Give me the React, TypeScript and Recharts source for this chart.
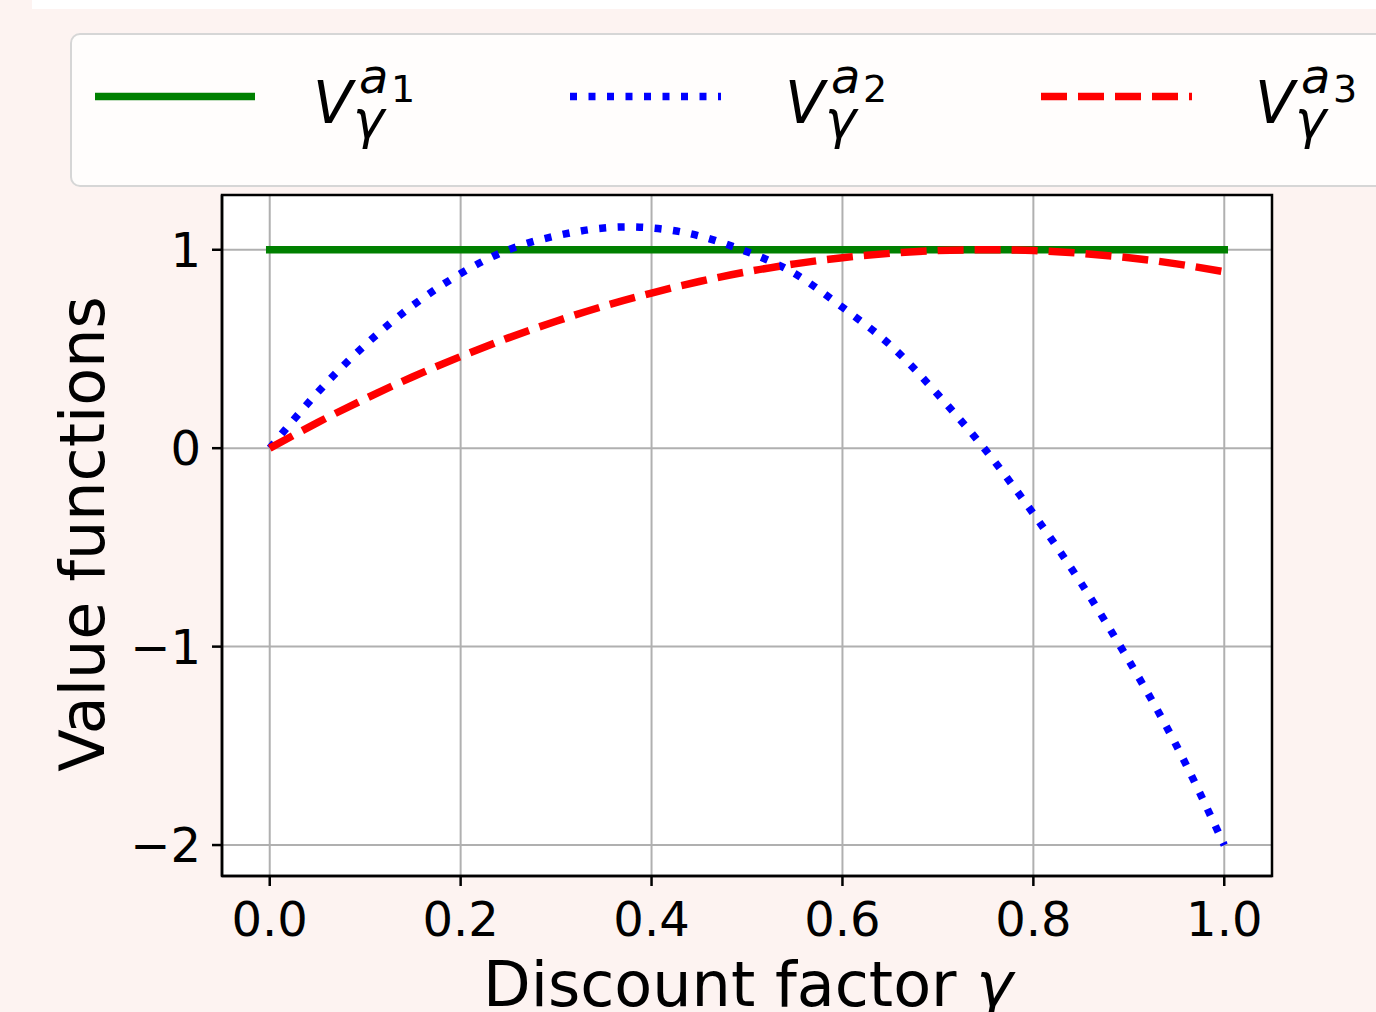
import React from "react";
import {
  LineChart,
  Line,
  XAxis,
  YAxis,
  CartesianGrid,
  Legend,
  Label,
  ReferenceArea,
} from "recharts";

const gammas = [
  0, 0.05, 0.1, 0.15, 0.2, 0.25, 0.3, 0.35, 0.4, 0.45, 0.5, 0.55, 0.6, 0.65,
  0.7, 0.75, 0.8, 0.85, 0.9, 0.95, 1,
];

const valueA1 = [1, 1, 1, 1, 1, 1, 1, 1, 1, 1, 1, 1, 1, 1, 1, 1, 1, 1, 1, 1, 1];

const valueA2 = [
  0, 0.28, 0.52, 0.72, 0.88, 1.0, 1.07, 1.11, 1.11, 1.07, 0.99, 0.88, 0.71,
  0.52, 0.27, -0.01, -0.33, -0.68, -1.07, -1.5, -2.0,
];

const valueA3 = [
  0, 0.129, 0.249, 0.36, 0.462, 0.556, 0.64, 0.716, 0.782, 0.84, 0.889, 0.929,
  0.96, 0.982, 0.996, 1.0, 0.996, 0.982, 0.96, 0.929, 0.889,
];

const xTicks = [0, 0.2, 0.4, 0.6, 0.8, 1.0];
const yTicks = [-2, -1, 0, 1];

const xDomain = [-0.05, 1.05];
const yDomain = [-2.156, 1.276];

const series = [
  { key: "a1", name: "V_γ^{a1}", sup: "1", color: "#008000", dash: undefined },
  { key: "a2", name: "V_γ^{a2}", sup: "2", color: "#0000ff", dash: "7 11.5" },
  { key: "a3", name: "V_γ^{a3}", sup: "3", color: "#ff0000", dash: "26 11" },
];

const rows = gammas.map((g, i) => ({
  g,
  a1: valueA1[i],
  a2: valueA2[i],
  a3: valueA3[i],
}));

const font = "'DejaVu Sans', sans-serif";

// legend sample + label positions, relative to the legend box
const legendLineX = [
  [25, 185],
  [500, 651],
  [971, 1122],
];
const legendTextX = [243, 715, 1185];

function renderLegend() {
  return (
    <svg width={1340} height={156} style={{ display: "block" }}>
      <rect
        x={1}
        y={1}
        width={1336}
        height={152}
        rx={9}
        fill="#fffdfc"
        stroke="#d6d6d6"
        strokeWidth={2}
      />
      {series.map((s, i) => {
        const vx = legendTextX[i];
        return (
          <g key={s.key} fontFamily={font} fill="#000">
            <line
              x1={legendLineX[i][0]}
              x2={legendLineX[i][1]}
              y1={63.5}
              y2={63.5}
              stroke={s.color}
              strokeWidth={7.5}
              strokeDasharray={s.dash}
            />
            <text x={vx} y={90} fontSize={58} fontStyle="italic">
              V
            </text>
            <text x={vx + 46} y={60} fontSize={48} fontStyle="italic">
              a
            </text>
            <text x={vx + 78} y={69} fontSize={38}>
              {s.sup}
            </text>
            <text x={vx + 40} y={105} fontSize={53} fontStyle="italic">
              γ
            </text>
          </g>
        );
      })}
    </svg>
  );
}

const fmtMinus = (v: number) => String(v).replace("-", "\u2212");

export default function App() {
  return (
    <div
      style={{
        position: "absolute",
        top: 0,
        left: 0,
        width: 1376,
        height: 1012,
        background: "#fdf3f1",
        overflow: "hidden",
        fontFamily: font,
      }}
    >
      <div
        style={{
          position: "absolute",
          top: 0,
          left: 32,
          width: 1344,
          height: 9,
          background: "#ffffff",
        }}
      />
      <LineChart
        width={1376}
        height={1012}
        data={rows}
        margin={{ top: 195, right: 104, bottom: 76, left: 122 }}
      >
        <CartesianGrid stroke="#b0b0b0" strokeWidth={2} fill="#ffffff" />
        <XAxis
          dataKey="g"
          type="number"
          domain={xDomain}
          ticks={xTicks}
          tickFormatter={(v: number) => v.toFixed(1)}
          height={60}
          tickSize={10}
          tickMargin={16}
          stroke="#000"
          strokeWidth={2.5}
          tick={{ fill: "#000", fontSize: 48, fontFamily: font }}
          allowDataOverflow
        >
          <Label
            content={() => (
              <text
                x={748}
                y={1006}
                textAnchor="middle"
                fontSize={62}
                fontFamily={font}
                fill="#000"
              >
                Discount factor <tspan fontStyle="italic">γ</tspan>
              </text>
            )}
          />
        </XAxis>
        <YAxis
          type="number"
          domain={yDomain}
          ticks={yTicks}
          tickFormatter={fmtMinus}
          width={100}
          tickSize={10}
          tickMargin={11}
          stroke="#000"
          strokeWidth={2.5}
          tick={{ fill: "#000", fontSize: 48, fontFamily: font }}
          allowDataOverflow
        >
          <Label
            content={() => (
              <text
                x={104}
                y={534}
                transform="rotate(-90 104 534)"
                textAnchor="middle"
                fontSize={62}
                fontFamily={font}
                fill="#000"
              >
                Value functions
              </text>
            )}
          />
        </YAxis>
        <ReferenceArea
          x1={xDomain[0]}
          x2={xDomain[1]}
          y1={yDomain[0]}
          y2={yDomain[1]}
          fill="none"
          fillOpacity={0}
          stroke="#000"
          strokeWidth={2.5}
          ifOverflow="visible"
        />
        <Legend
          layout="vertical"
          align="center"
          verticalAlign="middle"
          content={renderLegend}
          wrapperStyle={{ position: "absolute", top: 33, left: 70, width: 1340, height: 156 }}
        />
        {series.map((s) => (
          <Line
            key={s.key}
            dataKey={s.key}
            name={s.name}
            type="natural"
            stroke={s.color}
            strokeWidth={7.5}
            strokeDasharray={s.dash}
            strokeLinecap={s.dash ? "butt" : "square"}
            dot={false}
            activeDot={false}
            isAnimationActive={false}
          />
        ))}
      </LineChart>
    </div>
  );
}
